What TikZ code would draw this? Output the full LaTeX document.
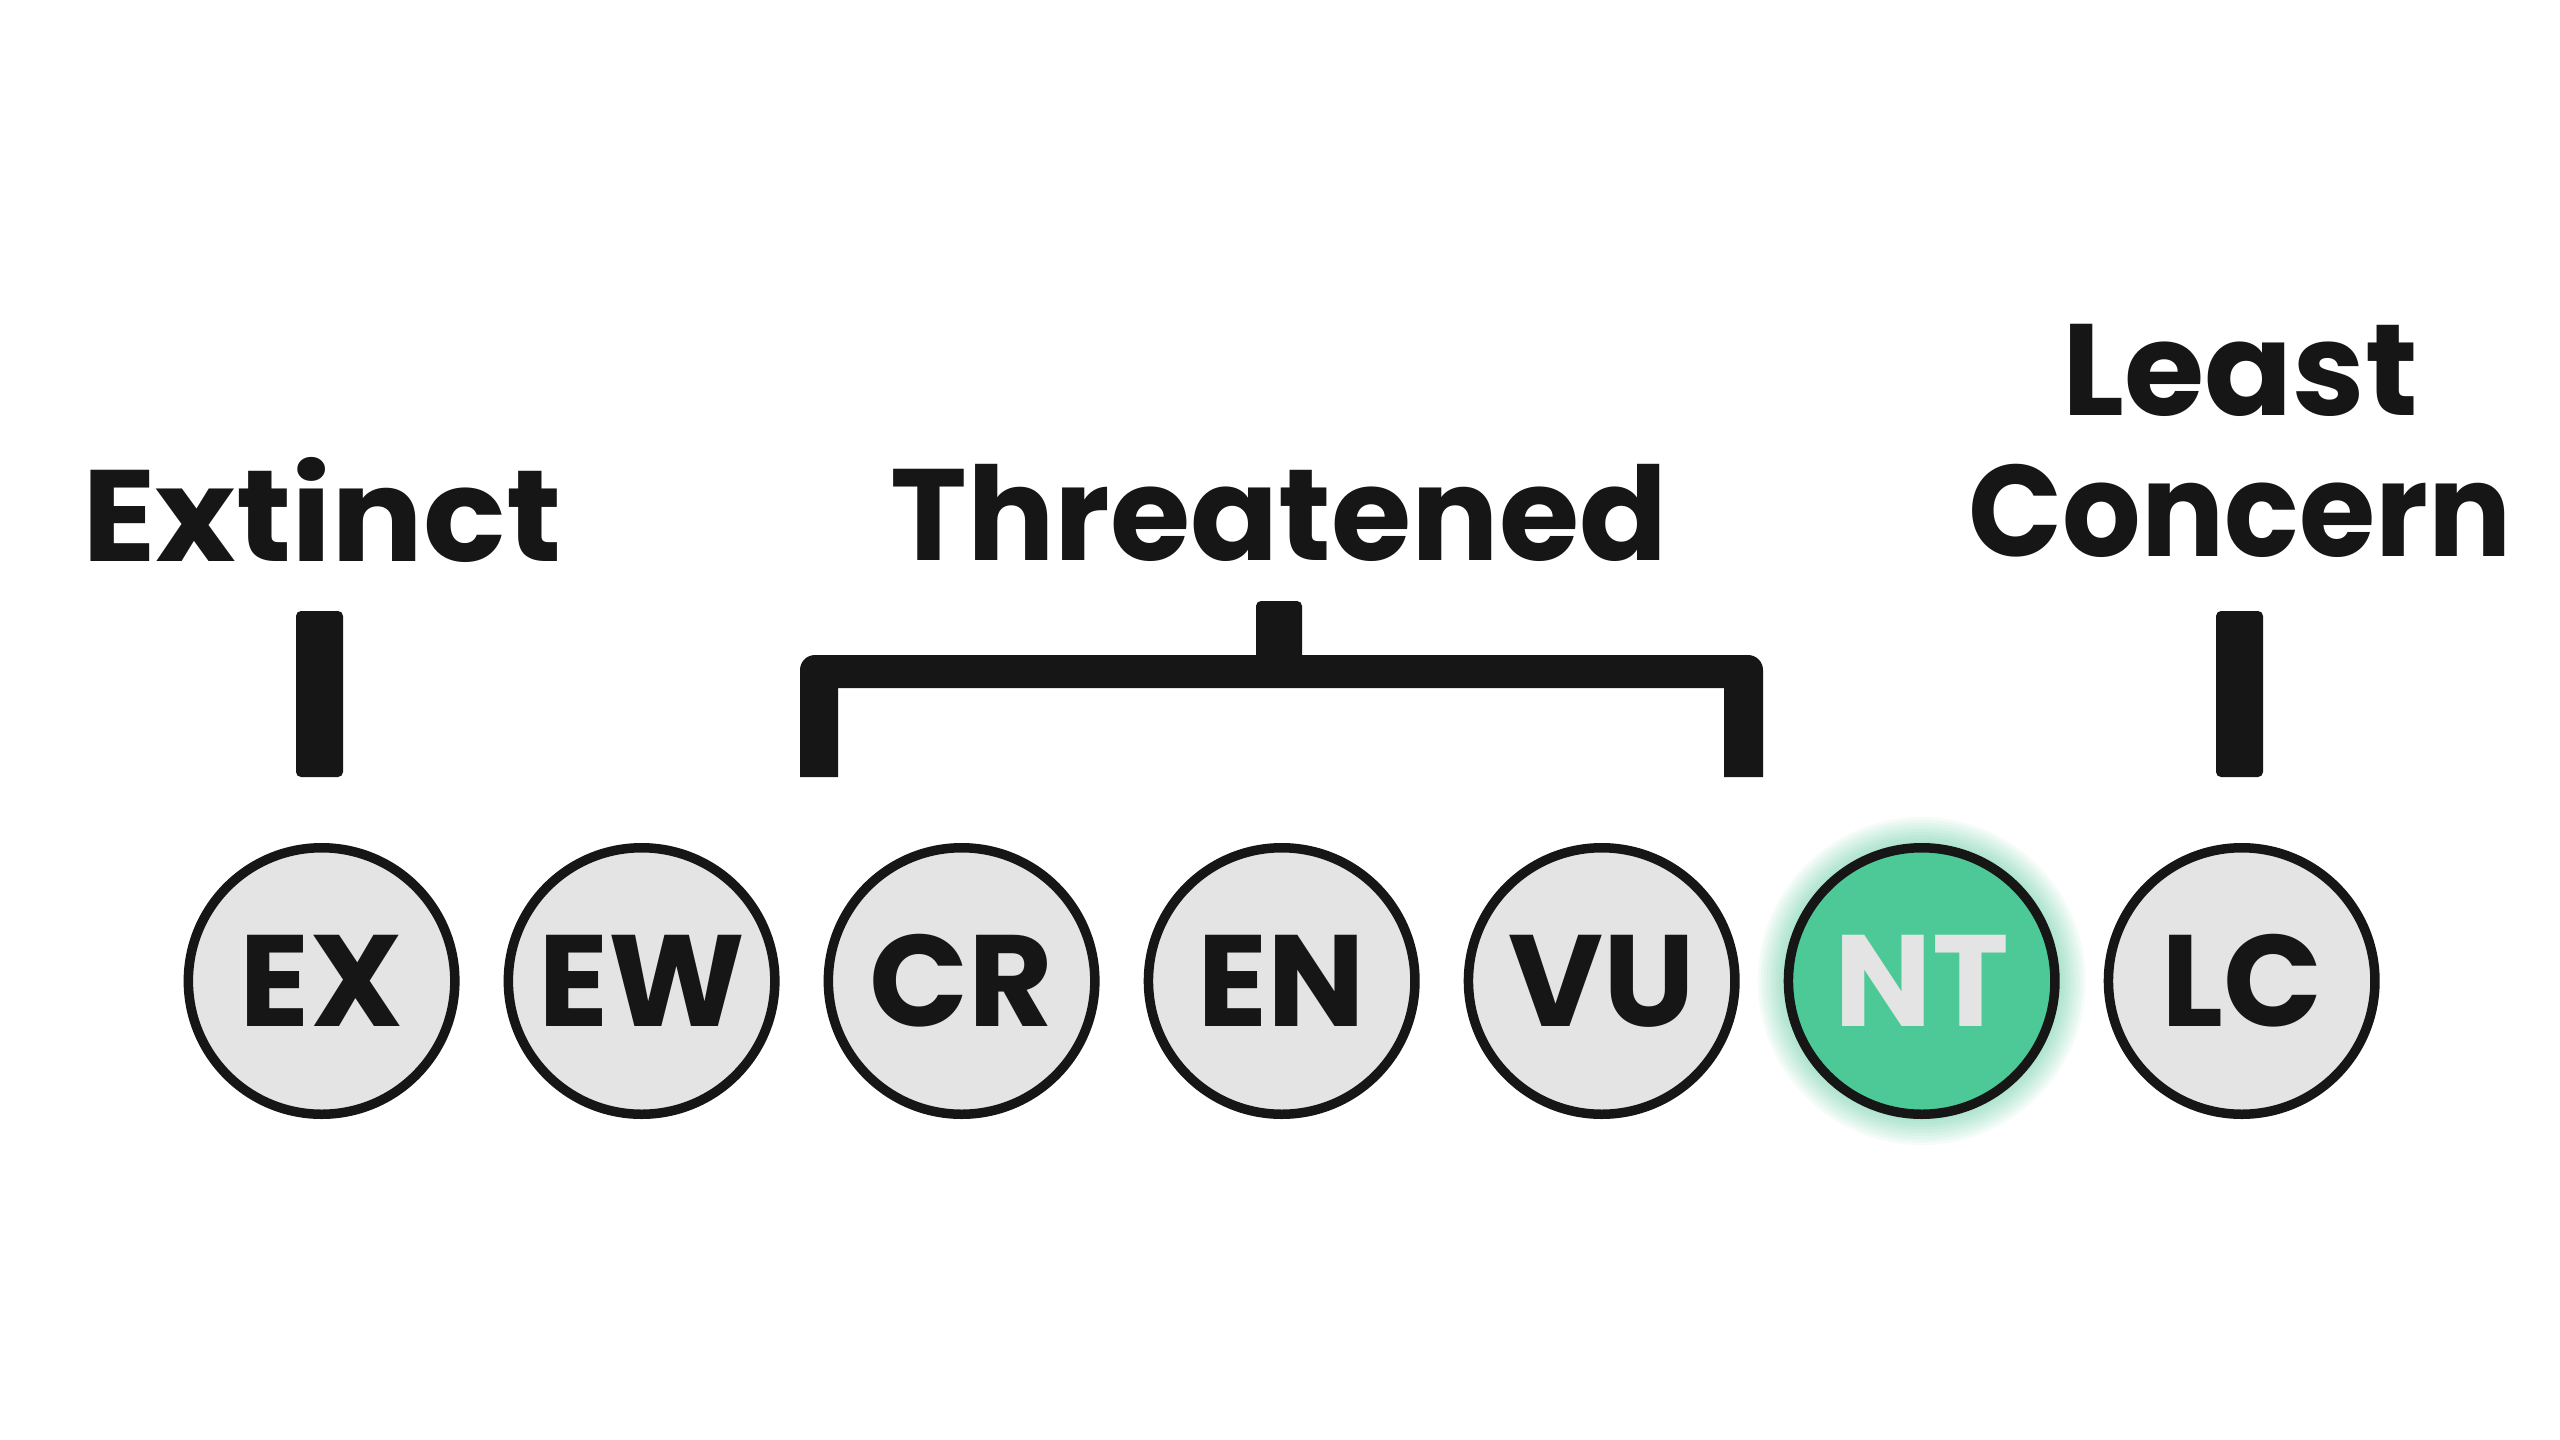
\documentclass[tikz,border=0pt]{standalone}
\usepackage{fontspec}
\setmainfont{Poppins}
\definecolor{ink}{HTML}{161616}
\definecolor{disc}{HTML}{E4E4E4}
\definecolor{ntgreen}{HTML}{4DC998}
\tikzset{
  status/.style={circle, draw=ink, line width=9.5pt, fill=disc, minimum size=266.5pt,
    inner sep=0pt, text=ink, font=\fontsize{130}{130}\selectfont\bfseries,
    text height=91pt, text depth=0pt},
  head/.style={text=ink, font=\fontsize{130}{141}\selectfont\bfseries, inner sep=0pt, anchor=base},
  barfill/.style={fill=ink, rounded corners=5pt},
  glow/.style={fill=ntgreen, opacity=0.06}
}
\begin{document}
\begin{tikzpicture}[x=1pt,y=-1pt]
\useasboundingbox (0,0) rectangle (2560,1440);
\fill[white] (0,0) rectangle (2560,1440);
% glow behind NT
\foreach \r in {164,161,...,139} \fill[glow] (1921.7,981) circle (\r pt);
% status circles
\node[status] (ex) at (321.6,981) {EX};
\node[status] (ew) at (641.6,981) {EW};
\node[status] (cr) at (961.6,981) {CR};
\node[status] (en) at (1281.7,981) {EN};
\node[status] (vu) at (1601.7,981) {VU};
\node[status, fill=ntgreen, text=disc] (nt) at (1921.7,981) {NT};
\node[status] (lc) at (2241.7,981) {LC};
% headings
\node[head] (extinct) at (322,561) {\scalebox{1.05}[1]{Extinct}};
\node[head] (threat) at (1279,560) {Threatened};
\node[head] (least) at (2240,415) {Least};
\node[head] (concern) at (2240,556) {\scalebox{0.95}[1]{Concern}};
% bars
\fill[barfill] (296,611) rectangle (343,777);
\fill[barfill] (2216,611) rectangle (2263,777);
% bracket
\fill[ink] (800,777) [rounded corners=15pt]-- (800,655) -- (1763,655) [sharp corners]-- (1763,777)
  -- (1724,777) -- (1724,688) -- (838,688) -- (838,777) -- cycle;
\fill[barfill] (1256,601) rectangle (1302,670);
\end{tikzpicture}
\end{document}
